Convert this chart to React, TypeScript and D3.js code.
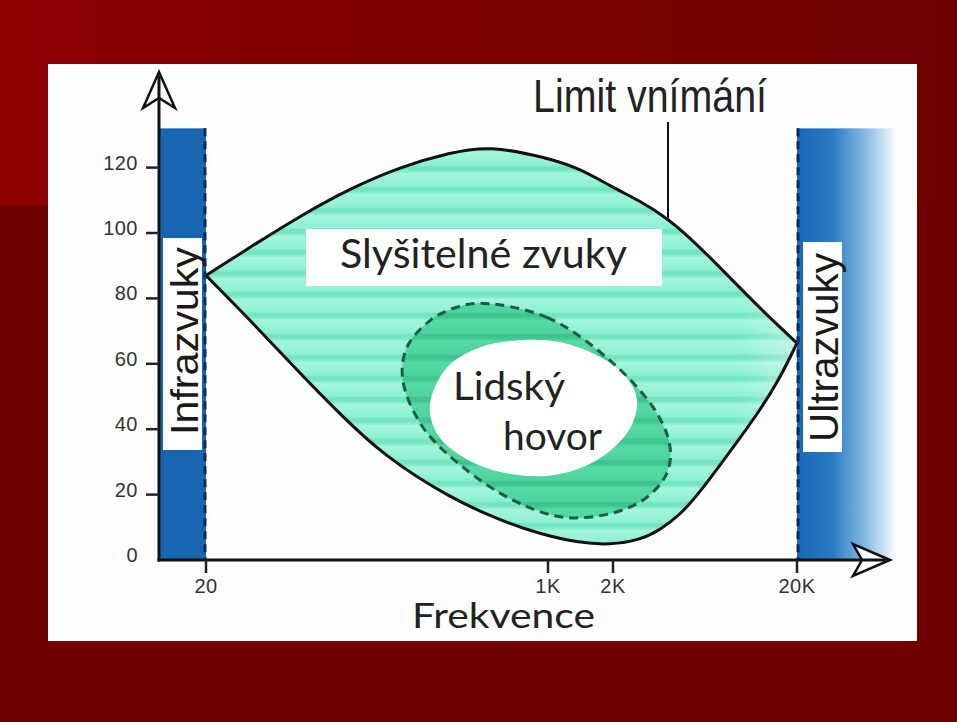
import React from "react";
import * as d3 from "d3";

// ---- data ----
const freqTicks = [20, 1000, 2000, 20000];
const freqTickLabels = ["20", "1K", "2K", "20K"];
const dbTicks = [0, 20, 40, 60, 80, 100, 120];

// upper limit of hearing (pain threshold)
const upperFreq = [20, 33, 59, 104, 184, 326, 515, 990, 1406, 2000, 2804, 3930, 5240, 6980, 9800, 13060, 20000];
const upperDb = [87, 95.6, 105.3, 113.6, 120.2, 124.6, 126.7, 123, 119.7, 113.9, 109.8, 104.6, 98.5, 91.7, 83.2, 76.1, 66.3];

// lower limit of hearing (threshold of hearing)
const lowerFreq = [20, 33.1, 58.6, 92.7, 151, 326, 577, 912, 1406, 1936, 2804, 3597, 4620, 5940, 7630, 9800, 12580, 16150, 20000];
const lowerDb = [87, 73.4, 57.1, 44.6, 32.1, 18.9, 12.2, 7.9, 5.2, 4.6, 6.1, 9.2, 13.7, 20.8, 29.0, 37.3, 45.8, 55.6, 66.3];

// speech region (outer, dashed)
const speechOuterFreq = [459, 988, 2000, 3467, 4083, 3930, 3062, 2000, 1173, 670, 378, 239, 190, 199, 260, 337];
const speechOuterDb = [78.5, 74.2, 60.2, 44.9, 34.5, 26.6, 19.2, 14.4, 13.1, 18.3, 28.4, 40.6, 55.0, 65.0, 73.3, 76.9];

// speech core (white)
const speechInnerFreq = [259, 315, 459, 726, 1136, 1687, 2323, 2700, 2474, 1738, 1077, 611, 387, 284];
const speechInnerDb = [47.3, 58.9, 65.0, 67.2, 66.6, 62.6, 56.5, 48.9, 40.3, 31.1, 26.0, 26.6, 31.1, 38.2];

// bands
const infraLimitFreq = 20;
const ultraLimitFreq = 20000;
const bandTopDb = 132;

const W = 957;
const H = 722;

export default function App() {
  const x = d3.scaleLog().domain([20, 1000, 2000, 20000]).range([206, 548, 613, 797]);
  const y = d3.scaleLinear().domain([0, 120]).range([560, 167.6]);

  const axisX = 159;
  const axisY = y(0);

  const zip = (f: number[], d: number[]) => f.map((v, i) => [v, d[i]] as [number, number]);

  const line = d3
    .line<[number, number]>()
    .x((d) => x(d[0]))
    .y((d) => y(d[1]))
    .curve(d3.curveBasis);
  const closed = d3
    .line<[number, number]>()
    .x((d) => x(d[0]))
    .y((d) => y(d[1]))
    .curve(d3.curveCatmullRomClosed.alpha(0.5));

  const upperPts = zip(upperFreq, upperDb);
  const lowerPts = zip(lowerFreq, lowerDb);
  const upperPath = line(upperPts) || "";
  const lowerPath = line(lowerPts) || "";
  const lowerRev = (line(lowerPts.slice().reverse()) || "").replace(/^M/, "L");
  const areaPath = upperPath + lowerRev + "Z";

  const outerPath = closed(zip(speechOuterFreq, speechOuterDb)) || "";
  const innerPath = closed(zip(speechInnerFreq, speechInnerDb)) || "";

  const bandTop = y(bandTopDb);
  const x20 = x(infraLimitFreq);
  const x20k = x(ultraLimitFreq);

  const tickFont = "'Liberation Sans', Arial, sans-serif";
  const humanFont = "Lato, 'Open Sans', sans-serif";

  return (
    <svg
      width={W}
      height={H}
      viewBox={`0 0 ${W} ${H}`}
      style={{ position: "absolute", left: 0, top: 0, display: "block" }}
    >
      <defs>
        <linearGradient id="bgTop" x1="0" x2="1" y1="0" y2="0">
          <stop offset="0%" stopColor="#8e0101" />
          <stop offset="55%" stopColor="#7a0000" />
          <stop offset="100%" stopColor="#700000" />
        </linearGradient>
        <linearGradient id="ultraGrad" x1="0" x2="1" y1="0" y2="0">
          <stop offset="0%" stopColor="#1a68b4" />
          <stop offset="35%" stopColor="#2a7bc3" />
          <stop offset="70%" stopColor="#8dbde3" />
          <stop offset="100%" stopColor="#ffffff" />
        </linearGradient>
        <linearGradient id="stripeTile" x1="0" x2="0" y1="0" y2="1">
          <stop offset="0%" stopColor="#a6f6df" />
          <stop offset="62%" stopColor="#8cf0d2" />
          <stop offset="70%" stopColor="#74e4c3" />
          <stop offset="84%" stopColor="#74e4c3" />
          <stop offset="100%" stopColor="#98f3d8" />
        </linearGradient>
        <pattern id="hearStripes" patternUnits="userSpaceOnUse" x="0" y="257" width={W} height="21">
          <rect x="0" y="0" width={W} height="21" fill="url(#stripeTile)" />
        </pattern>
        <linearGradient id="blobTile" x1="0" x2="0" y1="0" y2="1">
          <stop offset="0%" stopColor="#58daa7" />
          <stop offset="62%" stopColor="#4dd39e" />
          <stop offset="70%" stopColor="#3ec48e" />
          <stop offset="84%" stopColor="#3ec48e" />
          <stop offset="100%" stopColor="#52d7a2" />
        </linearGradient>
        <pattern id="blobStripes" patternUnits="userSpaceOnUse" x="0" y="257" width={W} height="21">
          <rect x="0" y="0" width={W} height="21" fill="url(#blobTile)" />
        </pattern>
        <linearGradient id="rightFade" x1="0" x2="1" y1="0" y2="0">
          <stop offset="0%" stopColor="#ffffff" stopOpacity="0" />
          <stop offset="60%" stopColor="#ffffff" stopOpacity="0" />
          <stop offset="100%" stopColor="#ffffff" stopOpacity="0.35" />
        </linearGradient>
        <clipPath id="areaClip">
          <path d={areaPath} />
        </clipPath>
      </defs>

      {/* slide background */}
      <rect x={0} y={0} width={W} height={H} fill="#700000" />
      <rect x={0} y={0} width={W} height={205} fill="url(#bgTop)" />

      {/* white panel */}
      <rect x={48} y={64} width={869} height={577} fill="#fefefe" />

      {/* infrasound band */}
      <rect x={axisX} y={bandTop} width={x20 - axisX} height={axisY - bandTop} fill="#1866b2" />
      {/* ultrasound band */}
      <rect x={x20k} y={bandTop} width={100} height={axisY - bandTop} fill="url(#ultraGrad)" />

      {/* audible area */}
      <path d={areaPath} fill="url(#hearStripes)" />
      <rect x={650} y={140} width={x20k - 650} height={420} fill="url(#rightFade)" clipPath="url(#areaClip)" />

      {/* speech region */}
      <path d={outerPath} fill="url(#blobStripes)" />
      <path d={innerPath} fill="#ffffff" />
      <path d={outerPath} fill="none" stroke="#1c5c44" strokeWidth={3} strokeDasharray="9 6" />

      {/* limit curves */}
      <path d={upperPath} fill="none" stroke="#111" strokeWidth={3} />
      <path d={lowerPath} fill="none" stroke="#111" strokeWidth={3} />

      {/* dashed band edges */}
      <line x1={x20 - 1} x2={x20 - 1} y1={bandTop} y2={axisY} stroke="#0b2a5a" strokeWidth={3} strokeDasharray="8 5" />
      <line x1={x20k + 1} x2={x20k + 1} y1={bandTop} y2={axisY} stroke="#0b2a5a" strokeWidth={3} strokeDasharray="8 5" />

      {/* band labels */}
      <rect x={163} y={238} width={39} height={212} fill="#ffffff" />
      <text
        transform="translate(198,435) rotate(-90)"
        fontFamily={tickFont}
        fontSize={39}
        fill="#1a1a1a"
        textLength={188}
        lengthAdjust="spacingAndGlyphs"
      >
        Infrazvuky
      </text>
      <rect x={803} y={242} width={39} height={210} fill="#ffffff" />
      <text
        transform="translate(838,442) rotate(-90)"
        fontFamily={tickFont}
        fontSize={40}
        fill="#1a1a1a"
        textLength={189}
        lengthAdjust="spacingAndGlyphs"
      >
        Ultrazvuky
      </text>

      {/* audible label */}
      <rect x={306} y={229} width={356} height={57} fill="#ffffff" />
      <text x={340} y={268} fontFamily={humanFont} fontSize={40} fill="#222" textLength={287} lengthAdjust="spacingAndGlyphs">
        Slyšitelné zvuky
      </text>

      {/* speech label */}
      <text x={453} y={400} fontFamily={humanFont} fontSize={39} fill="#222" textLength={112} lengthAdjust="spacingAndGlyphs">
        Lidský
      </text>
      <text x={503} y={450} fontFamily={humanFont} fontSize={39} fill="#222" textLength={99} lengthAdjust="spacingAndGlyphs">
        hovor
      </text>

      {/* limit label */}
      <text
        x={533}
        y={112}
        fontFamily="'Liberation Sans Narrow', 'Arial Narrow', 'Liberation Sans', sans-serif"
        fontSize={46}
        fill="#222"
        textLength={234}
        lengthAdjust="spacingAndGlyphs"
      >
        Limit vnímání
      </text>
      <line x1={668} x2={668} y1={122} y2={y(104.3)} stroke="#111" strokeWidth={2} />

      {/* axes */}
      <polygon points={`${axisX},72 ${axisX + 16},108 ${axisX},98 ${axisX - 16},108`} fill="#fff" stroke="#111" strokeWidth={2.5} strokeLinejoin="miter" />
      <line x1={axisX} x2={axisX} y1={axisY + 1.5} y2={76} stroke="#111" strokeWidth={3} />
      <polygon points={`890,${axisY} 853,${axisY - 16} 862,${axisY} 853,${axisY + 16}`} fill="#fff" stroke="#111" strokeWidth={2.5} />
      <line x1={axisX - 1.5} x2={886} y1={axisY} y2={axisY} stroke="#111" strokeWidth={3} />

      {/* y ticks */}
      {dbTicks.map((v) => (
        <g key={"y" + v}>
          {v !== 0 && <line x1={146} x2={axisX} y1={y(v)} y2={y(v)} stroke="#222" strokeWidth={2.5} />}
          <text
            x={138}
            y={y(v) + 2}
            textAnchor="end"
            fontFamily={tickFont}
            fontSize={20}
            letterSpacing={0.5}
            fill="#333"
          >
            {v}
          </text>
        </g>
      ))}

      {/* x ticks */}
      {freqTicks.map((f, i) => (
        <g key={"x" + f}>
          <line x1={x(f)} x2={x(f)} y1={axisY} y2={axisY + 13} stroke="#222" strokeWidth={2.5} />
          <text
            x={x(f)}
            y={593}
            textAnchor="middle"
            fontFamily={tickFont}
            fontSize={20}
            letterSpacing={0.5}
            fill="#333"
          >
            {freqTickLabels[i]}
          </text>
        </g>
      ))}

      {/* axis title */}
      <text x={412} y={628} fontFamily={humanFont} fontSize={35} fill="#222" textLength={183} lengthAdjust="spacingAndGlyphs">
        Frekvence
      </text>
    </svg>
  );
}
